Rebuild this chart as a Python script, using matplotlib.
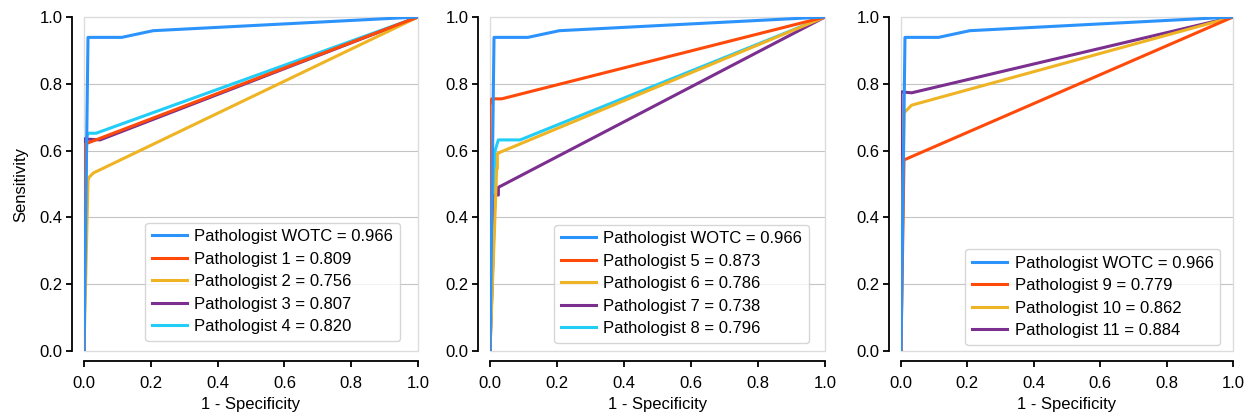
import matplotlib
matplotlib.use("Agg")
import matplotlib.pyplot as plt
from matplotlib.patches import Rectangle

plt.rcParams['font.family'] = ['Liberation Sans', 'DejaVu Sans']

# ---- data (FPR = 1 - specificity, TPR = sensitivity) ----
wotc_fpr = [0.0, 0.012, 0.113, 0.207, 1.0]
wotc_tpr = [0.0, 0.939, 0.939, 0.959, 1.0]

p1_fpr = [0.0, 0.004, 1.0]
p1_tpr = [0.0, 0.620, 1.0]
p2_fpr = [0.0, 0.012, 0.015, 0.028, 1.0]
p2_tpr = [0.0, 0.510, 0.520, 0.533, 1.0]
p3_fpr = [0.0, 0.0, 0.048, 1.0]
p3_tpr = [0.0, 0.635, 0.632, 1.0]
p4_fpr = [0.0, 0.008, 0.013, 0.036, 1.0]
p4_tpr = [0.0, 0.640, 0.652, 0.652, 1.0]

p5_fpr = [0.0, 0.0, 0.005, 0.035, 1.0]
p5_tpr = [0.0, 0.737, 0.755, 0.755, 1.0]
p6_fpr = [0.0, 0.020, 0.022, 0.022, 0.030, 1.0]
p6_tpr = [0.0, 0.547, 0.547, 0.590, 0.595, 1.0]
p7_fpr = [0.0, 0.015, 0.025, 0.025, 1.0]
p7_tpr = [0.0, 0.467, 0.467, 0.490, 1.0]
p8_fpr = [0.0, 0.015, 0.025, 0.090, 1.0]
p8_tpr = [0.0, 0.600, 0.632, 0.632, 1.0]

p9_fpr = [0.0, 0.009, 1.0]
p9_tpr = [0.0, 0.572, 1.0]
p10_fpr = [0.0, 0.009, 0.032, 1.0]
p10_tpr = [0.0, 0.713, 0.736, 1.0]
p11_fpr = [0.0, 0.0, 0.032, 1.0]
p11_tpr = [0.0, 0.776, 0.773, 1.0]

labels_p1 = ["Pathologist WOTC = 0.966", "Pathologist 1 = 0.809", "Pathologist 2 = 0.756",
             "Pathologist 3 = 0.807", "Pathologist 4 = 0.820"]
labels_p2 = ["Pathologist WOTC = 0.966", "Pathologist 5 = 0.873", "Pathologist 6 = 0.786",
             "Pathologist 7 = 0.738", "Pathologist 8 = 0.796"]
labels_p3 = ["Pathologist WOTC = 0.966", "Pathologist 9 = 0.779", "Pathologist 10 = 0.862",
             "Pathologist 11 = 0.884"]

ticks = [0.0, 0.2, 0.4, 0.6, 0.8, 1.0]
tick_labels = ["0.0", "0.2", "0.4", "0.6", "0.8", "1.0"]

c_blue = "#2b93fb"
c_red = "#ff4a0a"
c_yellow = "#efb424"
c_purple = "#7b2f8e"
c_cyan = "#22cdf7"

panels = [
    (labels_p1, [(wotc_fpr, wotc_tpr, c_blue), (p1_fpr, p1_tpr, c_red), (p2_fpr, p2_tpr, c_yellow),
                 (p3_fpr, p3_tpr, c_purple), (p4_fpr, p4_tpr, c_cyan)], 0.946, 0.030),
    (labels_p2, [(wotc_fpr, wotc_tpr, c_blue), (p5_fpr, p5_tpr, c_red), (p6_fpr, p6_tpr, c_yellow),
                 (p7_fpr, p7_tpr, c_purple), (p8_fpr, p8_tpr, c_cyan)], 0.952, 0.024),
    (labels_p3, [(wotc_fpr, wotc_tpr, c_blue), (p9_fpr, p9_tpr, c_red), (p10_fpr, p10_tpr, c_yellow),
                 (p11_fpr, p11_tpr, c_purple)], 0.961, 0.018),
]

fig = plt.figure(figsize=(12.58, 4.2), dpi=100)
lefts = [84 / 1258, 490 / 1258, 901 / 1258]
widths = [334 / 1258, 335 / 1258, 332 / 1258]
bottom = 1 - 351 / 420
height = 334 / 420

fs = 12
for i, (labels, series, lx, ly) in enumerate(panels):
    ax = fig.add_axes([lefts[i], bottom, widths[i], height])
    handles = []
    for j, (x, y, c) in enumerate(series):
        z = 5 if j == 0 else 3 + (len(series) - j) * 0.1
        h, = ax.plot(x, y, color=c, lw=2.2, zorder=z, solid_joinstyle='round')
        handles.append(h)
    ax.set_xlim(0, 1)
    ax.set_ylim(0, 1)
    for yv in [0.2, 0.4, 0.6, 0.8]:
        ax.axhline(yv, color="#c4c4c4", lw=0.8, zorder=1)
    ax.add_patch(Rectangle((0, 0), 1, 1, transform=ax.transAxes, fill=False,
                           edgecolor="#dcdcdc", lw=1.0, zorder=0.5, clip_on=False))
    for s in ['top', 'right']:
        ax.spines[s].set_visible(False)
    ax.spines['left'].set_position(('outward', 8.6))
    ax.spines['bottom'].set_position(('outward', 7))
    ax.spines['left'].set_linewidth(1.3)
    ax.spines['bottom'].set_linewidth(1.3)
    ax.spines['left'].set_bounds(0, 1)
    ax.spines['bottom'].set_bounds(0, 1)
    ax.set_xticks(ticks)
    ax.set_xticklabels(tick_labels)
    ax.set_yticks(ticks)
    ax.set_yticklabels(tick_labels)
    ax.tick_params(direction='out', length=4, width=1.3, labelsize=fs, colors='black')
    ax.tick_params(axis='x', pad=7)
    ax.tick_params(axis='y', pad=3)
    ax.set_xlabel("1 - Specificity", fontsize=fs, labelpad=4)
    if i == 0:
        ax.set_ylabel("Sensitivity", fontsize=fs, labelpad=8)
    leg = ax.legend(handles, labels, loc='lower right', bbox_to_anchor=(lx, ly),
                    borderaxespad=0, fontsize=fs, frameon=True, handlelength=2.1,
                    labelspacing=0.45, handletextpad=0.45, borderpad=0.4, fancybox=True)
    leg.get_frame().set_edgecolor("#cccccc")
    leg.get_frame().set_linewidth(1.0)
    leg.set_zorder(10)

fig.savefig("out.png", dpi=100)
